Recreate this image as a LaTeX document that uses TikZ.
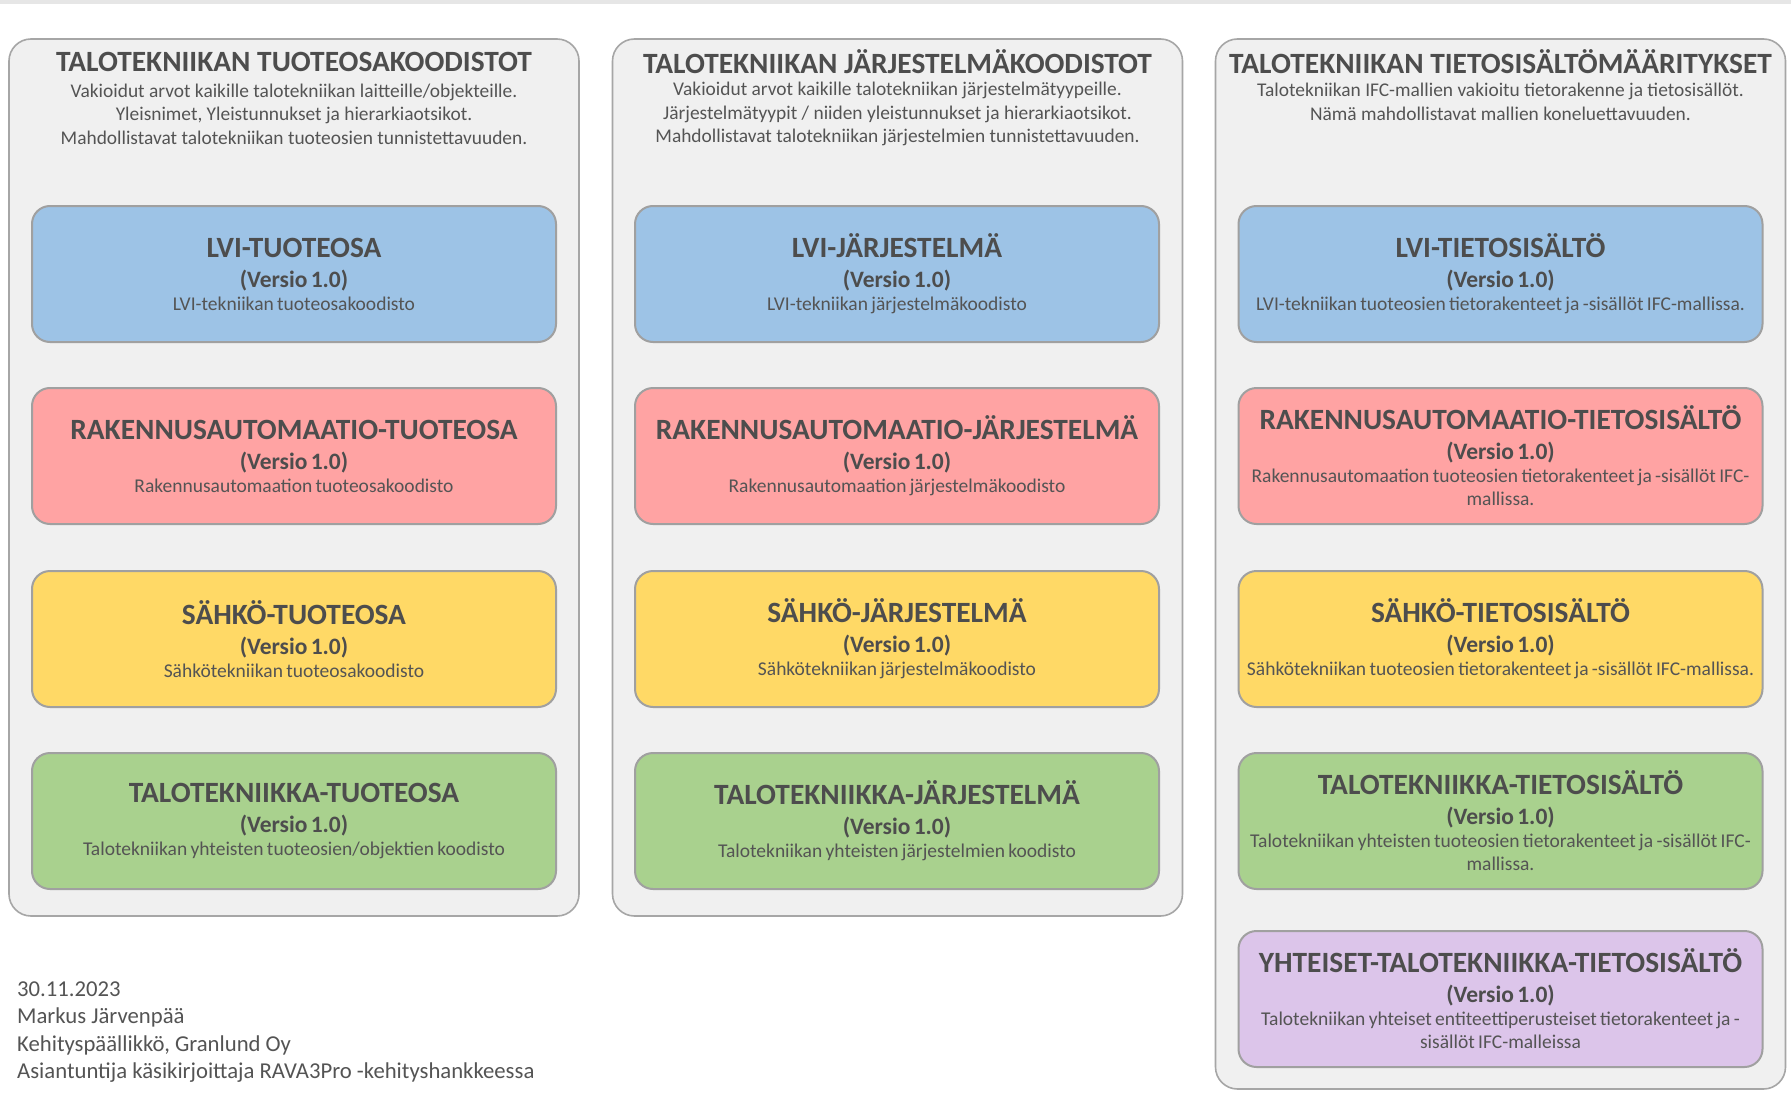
\documentclass[tikz,border=0pt]{standalone}
\usepackage{fontspec}
\setmainfont{Carlito}
\usetikzlibrary{positioning}

\definecolor{panelfill}{HTML}{F0F0F0}
\definecolor{panelline}{HTML}{A6A6A6}
\definecolor{boxline}{HTML}{A0A0A0}
\definecolor{stripgray}{HTML}{E6E6E6}
\definecolor{headtext}{HTML}{4D4D4D}
\definecolor{smalltext}{HTML}{545454}
\definecolor{lviblue}{HTML}{9DC3E6}
\definecolor{rapink}{HTML}{FFA3A3}
\definecolor{sahkoyellow}{HTML}{FFD966}
\definecolor{talogreen}{HTML}{A9D18E}
\definecolor{yhtpurple}{HTML}{DCC5EA}

\newcommand{\codetext}[2]{%
  {\fontsize{29.4}{30}\selectfont\bfseries\color{headtext}#1\par}%
  {\fontsize{23.5}{30}\selectfont\bfseries\color{headtext}(Versio 1.0)\par}%
  {\fontsize{19.5}{23}\selectfont\color{smalltext}#2\par}}

\tikzset{
  panel/.style={draw=panelline, fill=panelfill, line width=1.6pt, rounded corners=22pt,
    minimum width=570pt, inner sep=0pt},
  paneltitle/.style={font=\fontsize{29.4}{30}\selectfont\bfseries, text=headtext, inner sep=0pt},
  paneldesc/.style={font=\fontsize{19.4}{23.5}\selectfont, text=smalltext, align=center, inner sep=0pt},
  codebox/.style={draw=boxline, line width=2pt, rounded corners=18pt, minimum width=524pt,
    minimum height=136pt, text width=522pt, align=center, inner sep=0pt},
  signtext/.style={font=\fontsize{22.7}{27.4}\selectfont, text=smalltext, align=left, inner sep=0pt}
}

\begin{document}
\begin{tikzpicture}[x=1pt,y=-1pt]
  \useasboundingbox (0,0) rectangle (1791,1113);
  \fill[white] (0,0) rectangle (1791,1113);
  \fill[stripgray] (0,0) rectangle (1791,4);

  % paneelit
  \node[panel, minimum height=877pt] (tuotepanel) at (294,477.5) {};
  \node[panel, minimum height=877pt] (jarjpanel) at (897.5,477.5) {};
  \node[panel, minimum height=1050pt] (tietopanel) at (1500.5,564) {};

  \node[paneltitle] (tuotetitle) at (294,62) {TALOTEKNIIKAN TUOTEOSAKOODISTOT};
  \node[paneldesc] (tuotedesc) at (294,114) {Vakioidut arvot kaikille talotekniikan laitteille/objekteille.\\Yleisnimet, Yleistunnukset ja hierarkiaotsikot.\\Mahdollistavat talotekniikan tuoteosien tunnistettavuuden.};
  \node[paneltitle] (jarjtitle) at (897.5,62) {TALOTEKNIIKAN JÄRJESTELMÄKOODISTOT};
  \node[paneldesc] (jarjdesc) at (897.5,114) {Vakioidut arvot kaikille talotekniikan järjestelmätyypeille.\\Järjestelmätyypit / niiden yleistunnukset ja hierarkiaotsikot.\\Mahdollistavat talotekniikan järjestelmien tunnistettavuuden.};
  \node[paneltitle] (tietotitle) at (1500.5,62) {TALOTEKNIIKAN TIETOSISÄLTÖMÄÄRITYKSET};
  \node[paneldesc] (tietodesc) at (1500.5,102) {Talotekniikan IFC-mallien vakioitu tietorakenne ja tietosisällöt.\\Nämä mahdollistavat mallien koneluettavuuden.};

  % tuoteosat
  \node[codebox, fill=lviblue] (lvituote) at (294,274) {\codetext{LVI-TUOTEOSA}{LVI-tekniikan tuoteosakoodisto}};
  \node[codebox, fill=rapink] (ratuote) at (294,456) {\codetext{RAKENNUSAUTOMAATIO-TUOTEOSA}{Rakennusautomaation tuoteosakoodisto}};
  \node[codebox, fill=sahkoyellow] (sahkotuote) at (294,639) {\codetext{SÄHKÖ-TUOTEOSA}{Sähkötekniikan tuoteosakoodisto}};
  \node[codebox, fill=talogreen] (talotuote) at (294,821) {\codetext{TALOTEKNIIKKA-TUOTEOSA}{Talotekniikan yhteisten tuoteosien/objektien koodisto}};

  % järjestelmät
  \node[codebox, fill=lviblue] (lvijarj) at (897,274) {\codetext{LVI-JÄRJESTELMÄ}{LVI-tekniikan järjestelmäkoodisto}};
  \node[codebox, fill=rapink] (rajarj) at (897,456) {\codetext{RAKENNUSAUTOMAATIO-JÄRJESTELMÄ}{Rakennusautomaation järjestelmäkoodisto}};
  \node[codebox, fill=sahkoyellow] (sahkojarj) at (897,639) {\codetext{SÄHKÖ-JÄRJESTELMÄ}{Sähkötekniikan järjestelmäkoodisto}};
  \node[codebox, fill=talogreen] (talojarj) at (897,821) {\codetext{TALOTEKNIIKKA-JÄRJESTELMÄ}{Talotekniikan yhteisten järjestelmien koodisto}};

  % tietosisällöt
  \node[codebox, fill=lviblue] (lvitieto) at (1500.5,274) {\codetext{LVI-TIETOSISÄLTÖ}{LVI-tekniikan tuoteosien tietorakenteet ja -sisällöt IFC-mallissa.}};
  \node[codebox, fill=rapink] (ratieto) at (1500.5,456) {\codetext{RAKENNUSAUTOMAATIO-TIETOSISÄLTÖ}{Rakennusautomaation tuoteosien tietorakenteet ja -sisällöt IFC-\\mallissa.}};
  \node[codebox, fill=sahkoyellow] (sahkotieto) at (1500.5,639) {\codetext{SÄHKÖ-TIETOSISÄLTÖ}{Sähkötekniikan tuoteosien tietorakenteet ja -sisällöt IFC-mallissa.}};
  \node[codebox, fill=talogreen] (talotieto) at (1500.5,821) {\codetext{TALOTEKNIIKKA-TIETOSISÄLTÖ}{Talotekniikan yhteisten tuoteosien tietorakenteet ja -sisällöt IFC-\\mallissa.}};
  \node[codebox, fill=yhtpurple] (yhttieto) at (1500.5,999) {\codetext{YHTEISET-TALOTEKNIIKKA-TIETOSISÄLTÖ}{Talotekniikan yhteiset entiteettiperusteiset tietorakenteet ja -\\sisällöt IFC-malleissa}};

  \node[signtext, anchor=west] (sign) at (17,1032) {30.11.2023\\Markus Järvenpää\\Kehityspäällikkö, Granlund Oy\\Asiantuntija käsikirjoittaja RAVA3Pro -kehityshankkeessa};
\end{tikzpicture}
\end{document}
